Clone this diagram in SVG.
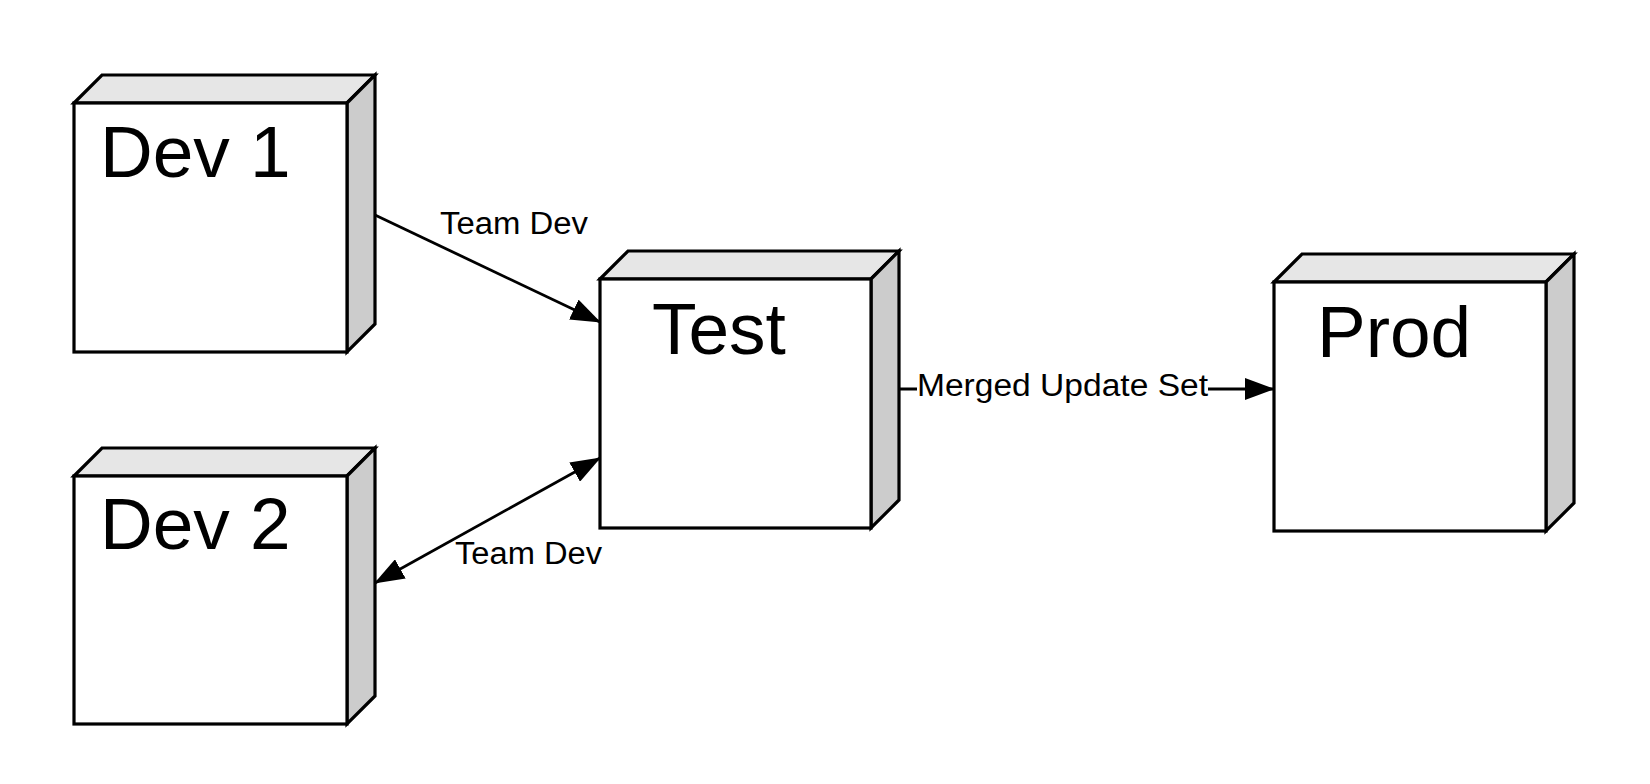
<svg xmlns="http://www.w3.org/2000/svg" width="1650" height="784" viewBox="0 0 1650 784">
  <style>
    .front { fill: #ffffff; stroke: #000000; stroke-width: 3.2; stroke-linejoin: miter; }
    .top { fill: #e6e6e6; stroke: #000000; stroke-width: 3.2; stroke-linejoin: miter; }
    .side { fill: #cccccc; stroke: #000000; stroke-width: 3.2; stroke-linejoin: miter; }
    .title { font-family: "Liberation Sans", Arial, sans-serif; font-size: 73px; fill: #000000; }
    .edge { fill: none; stroke: #000000; stroke-width: 2.8; }
    .elabel { font-family: "Liberation Sans", Arial, sans-serif; font-size: 31px; fill: #000000; }
  </style>
  <defs>
    <marker id="arrow" markerUnits="userSpaceOnUse" viewBox="0 0 30 22" markerWidth="30" markerHeight="22" refX="29" refY="11" orient="auto-start-reverse">
      <path d="M0,0 L30,11 L0,22 z" fill="#000000"/>
    </marker>
  </defs>
  <rect x="0" y="0" width="1650" height="784" fill="#ffffff"/>

  <g id="connectors">
    <g id="edge-dev1-test">
      <path class="edge" d="M375,215 L600,322" marker-end="url(#arrow)"/>
      <text class="elabel" x="440" y="234" textLength="148" lengthAdjust="spacingAndGlyphs">Team Dev</text>
    </g>
    <g id="edge-dev2-test">
      <path class="edge" d="M375,583 L600,458" marker-start="url(#arrow)" marker-end="url(#arrow)"/>
      <text class="elabel" x="455" y="564" textLength="147" lengthAdjust="spacingAndGlyphs">Team Dev</text>
    </g>
    <g id="edge-test-prod">
      <path class="edge" d="M899,389 L1274,389" marker-end="url(#arrow)"/>
      <rect x="917" y="370" width="291" height="32" fill="#ffffff"/>
      <text class="elabel" x="917" y="396" textLength="291" lengthAdjust="spacingAndGlyphs">Merged Update Set</text>
    </g>
  </g>

  <g id="node-dev1">
    <polygon class="top" points="74,103 102,75 375,75 347,103"/>
    <polygon class="side" points="347,103 375,75 375,324 347,352"/>
    <rect class="front" x="74" y="103" width="273" height="249"/>
    <text class="title" x="100" y="177">Dev 1</text>
  </g>

  <g id="node-dev2">
    <polygon class="top" points="74,476 102,448 375,448 347,476"/>
    <polygon class="side" points="347,476 375,448 375,696 347,724"/>
    <rect class="front" x="74" y="476" width="273" height="248"/>
    <text class="title" x="100" y="549">Dev 2</text>
  </g>

  <g id="node-test">
    <polygon class="top" points="600,279 628,251 899,251 871,279"/>
    <polygon class="side" points="871,279 899,251 899,500 871,528"/>
    <rect class="front" x="600" y="279" width="271" height="249"/>
    <text class="title" x="652" y="354">Test</text>
  </g>

  <g id="node-prod">
    <polygon class="top" points="1274,282 1302,254 1574,254 1546,282"/>
    <polygon class="side" points="1546,282 1574,254 1574,503 1546,531"/>
    <rect class="front" x="1274" y="282" width="272" height="249"/>
    <text class="title" x="1317" y="357">Prod</text>
  </g>
</svg>
